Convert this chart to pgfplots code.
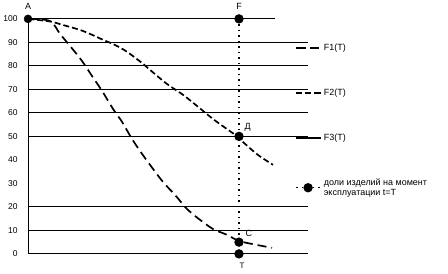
\documentclass[border=0pt]{standalone}
\usepackage{fontspec}
\setmainfont{Liberation Sans}
\usepackage{pgfplots}
\pgfplotsset{compat=1.18}
\begin{document}
\begin{tikzpicture}
\begin{axis}[
  scale only axis, width=280bp, height=235bp,
  xmin=0, xmax=280, ymin=0, ymax=100,
  axis lines=left, axis line style={-, black, line width=0.8bp},
  xtick=\empty,
  ytick={0,10,...,100},
  major tick length=0pt,
  yticklabel style={font=\fontsize{8.5}{9}\selectfont, xshift=-7bp},
  /pgf/number format/assume math mode=true,
  clip=false,
  legend style={at={(0.943,0.912)}, anchor=north west, draw=none, fill=none,
    font=\fontsize{9}{10}\selectfont, row sep=33bp, cells={align=left}},
  legend cell align=left,
  legend image code/.code={\draw[mark repeat=2,mark phase=2,#1] plot coordinates {(0bp,0bp) (12bp,0bp) (25bp,0bp)};},
]
% grid lines
\foreach \v in {10,20,50,60,70,80,90}{
  \edef\temp{\noexpand\draw[black, line width=0.8bp] (axis cs:0,\v) -- (axis cs:280,\v);}\temp
}
\draw[black, line width=0.8bp] (axis cs:0,100) -- (axis cs:247,100);

\addplot[black, line width=1.7bp, dash pattern=on 9bp off 5bp, smooth] coordinates {
(0,100)(22,99.1)(32,93.6)(42,88.5)(54,82.1)(64,75.7)(74,69.4)(85,61.7)(94,56.2)(104,48.9)(114,42.6)(122,37.9)(135,30.6)(147,25.1)(159,19.1)(172,14.5)(185,10.6)(199,8.1)(211,5.5)(229,3.8)(244,2.6)};
\addlegendentry{F1(T)}
\addplot[black, line width=1.7bp, dash pattern=on 6bp off 3bp, smooth] coordinates {
(0,100)(22,98.9)(35,97.4)(52,95.3)(62,93.6)(75,91.1)(87,88.9)(99,86)(115,80.9)(122,78.3)(139,72.3)(155,67.7)(170,62.6)(185,57.4)(200,52.8)(211,49.5)(215,47.6)(230,42.1)(245,37.9)};
\addlegendentry{F2(T)}
\addlegendimage{black, line width=1.7bp}
\addlegendentry{F3(T)}
\addplot[black, line width=1.3bp, dash pattern=on 1.5bp off 4bp, mark=*, mark size=4bp, mark options={solid}] coordinates {
(211,100)(211,50)(211,5)(211,0)};
\addlegendentry{доли изделий на момент\\эксплуатации t=T}
\addplot[black, only marks, mark=*, mark size=4bp, forget plot] coordinates {(0,100)};

\node[font=\fontsize{9}{10}\selectfont, anchor=south] at (axis cs:0,102.5) {A};
\node[font=\fontsize{9}{10}\selectfont, anchor=south] at (axis cs:211,102.5) {F};
\node[font=\fontsize{9}{10}\selectfont, anchor=south west] at (axis cs:213,50.5) {Д};
\node[font=\fontsize{9}{10}\selectfont, anchor=south west] at (axis cs:214,6) {C};
\node[font=\fontsize{8}{9}\selectfont, anchor=north] at (axis cs:214,-2.5) {T};
\end{axis}
\path[use as bounding box] (-28bp,-20bp) rectangle (420bp,252bp);
\end{tikzpicture}
\end{document}
